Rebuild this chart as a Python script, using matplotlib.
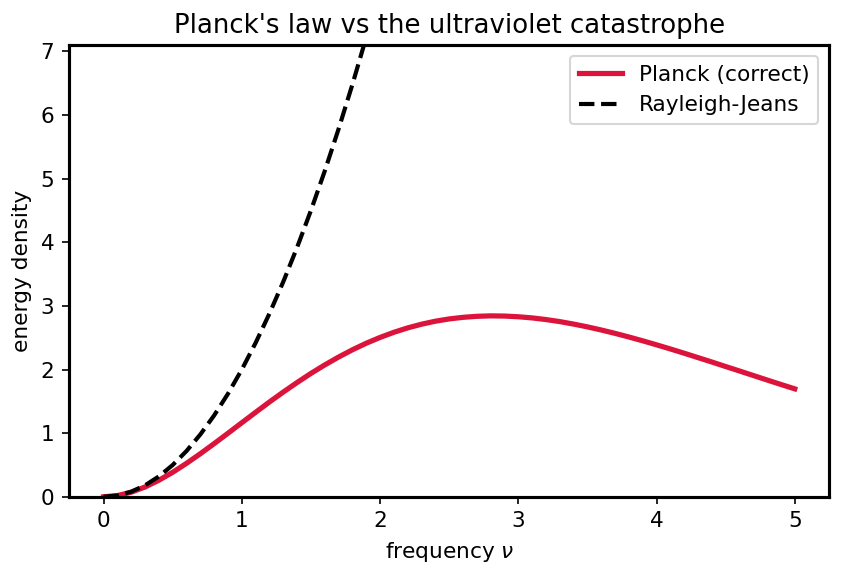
import matplotlib
matplotlib.use("Agg")
import matplotlib.pyplot as plt

# frequencies and energy densities
planck_nu = [0.0, 0.1, 0.2, 0.3, 0.4, 0.5, 0.6, 0.7, 0.8, 0.9, 1.0, 1.1, 1.2,
             1.3, 1.4, 1.5, 1.6, 1.7, 1.8, 1.9, 2.0, 2.1, 2.2, 2.3, 2.4, 2.5,
             2.6, 2.7, 2.8, 2.9, 3.0, 3.1, 3.2, 3.3, 3.4, 3.5, 3.6, 3.7, 3.8,
             3.9, 4.0, 4.1, 4.2, 4.3, 4.4, 4.5, 4.6, 4.7, 4.8, 4.9, 5.0]
planck_u = [0.0, 0.019, 0.072, 0.154, 0.260, 0.385, 0.526, 0.677, 0.836,
            0.999, 1.164, 1.328, 1.490, 1.646, 1.796, 1.939, 2.072, 2.196,
            2.310, 2.413, 2.504, 2.585, 2.654, 2.712, 2.759, 2.795, 2.820,
            2.836, 2.843, 2.840, 2.829, 2.811, 2.785, 2.753, 2.714, 2.670,
            2.621, 2.568, 2.511, 2.451, 2.388, 2.323, 2.256, 2.187, 2.118,
            2.047, 1.977, 1.906, 1.835, 1.765, 1.696]

rj_nu = [0.0, 0.1, 0.2, 0.3, 0.4, 0.5, 0.6, 0.7, 0.8, 0.9, 1.0, 1.1, 1.2,
         1.3, 1.4, 1.5, 1.6, 1.7, 1.8, 1.9, 2.0]
rj_u = [0.0, 0.02, 0.08, 0.18, 0.32, 0.50, 0.72, 0.98, 1.28, 1.62, 2.00,
        2.42, 2.88, 3.38, 3.92, 4.50, 5.12, 5.78, 6.48, 7.22, 8.00]

plt.rcParams["font.size"] = 10.4
fig, ax = plt.subplots(figsize=(5.613, 3.847), dpi=150)
ax.plot(planck_nu, planck_u, color="crimson", lw=2.5, label="Planck (correct)")
ax.plot(rj_nu, rj_u, "k--", lw=2, label="Rayleigh-Jeans")
ax.set_xlim(-0.25, 5.25)
ax.set_ylim(0, 7.1)
ax.set_xlabel(r"frequency $\nu$")
ax.set_ylabel("energy density")
ax.set_title("Planck's law vs the ultraviolet catastrophe", fontsize=12.5)
ax.legend(loc="upper right")
for s in ax.spines.values():
    s.set_linewidth(1.5)
fig.subplots_adjust(left=0.082, right=0.985, top=0.922, bottom=0.139)
fig.savefig("out.png")
